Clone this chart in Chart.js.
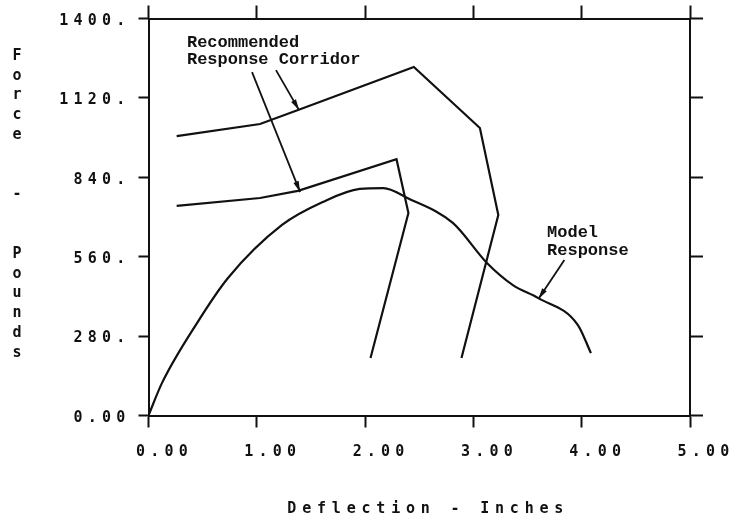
<!DOCTYPE html>
<html>
<head>
<meta charset="utf-8">
<script src="https://cdn.jsdelivr.net/npm/chart.js@4.4.1/dist/chart.umd.min.js"></script>
<style>
  html, body { margin: 0; padding: 0; background: #fff; }
  #wrap { width: 731px; height: 522px; }
</style>
</head>
<body>
<div id="wrap"><canvas id="chart"></canvas></div>
<script>
// axis ticks
const xTicks = [0, 1, 2, 3, 4, 5];
const xTickLabels = ["0.00", "1.00", "2.00", "3.00", "4.00", "5.00"];
const yTicks = [0, 280, 560, 840, 1120, 1400];
const yTickLabels = ["0.00", "280.", "560.", "840.", "1120.", "1400."];

// recommended response corridor (upper and lower bounds), inches / pounds
const upperX = [0.26, 1.03, 1.40, 2.45, 3.06, 3.23, 2.89];
const upperY = [985, 1028, 1080, 1229, 1014, 707, 203];
const lowerX = [0.26, 1.03, 1.38, 2.29, 2.40, 2.05];
const lowerY = [739, 767, 792, 904, 714, 203];

// model response
const modelX = [0, 0.125, 0.448, 0.734, 1.233, 1.61, 1.95, 2.17, 2.39, 2.81, 3.125, 3.365, 3.60, 3.965, 4.085];
const modelY = [0, 115, 326, 485, 672, 753, 799, 802, 767, 679, 538, 460, 414, 319, 220];

// callouts (text anchors and arrows, in data units)
const labels = [
    { text: "Recommended", x: 0.355, y: 1313 },
    { text: "Response Corridor", x: 0.355, y: 1253 },
    { text: "Model", x: 3.68, y: 643 },
    { text: "Response", x: 3.68, y: 580 },
];
const arrows = [
    { x0: 0.956, y0: 1211, x1: 1.40, y1: 788 },
    { x0: 1.177, y0: 1218, x1: 1.39, y1: 1077 },
    { x0: 3.84, y0: 548, x1: 3.60, y1: 411 },
];

const xTitle = "Deflection - Inches";
const yTitle = "Force  -  Pounds";

const ink = "#111";
const axisFont = { family: "'DejaVu Sans Mono'", size: 15, weight: "bold" };

function toPoints(xs, ys) {
    return xs.map((x, i) => ({ x: x, y: ys[i] }));
}

function setTicks(values) {
    return (scale) => { scale.ticks = values.map((v) => ({ value: v })); };
}

const frame = {
    drawOnChartArea: false,
    drawTicks: true,
    tickWidth: 2,
    tickColor: ink,
};

const textPlugin = {
    id: "textPlugin",
    beforeDraw(chart) {
        chart.ctx.letterSpacing = "5.2px";
    },
    afterDraw(chart) {
        const ctx = chart.ctx;
        const xs = chart.scales.x;
        const ys = chart.scales.y;
        const area = chart.chartArea;
        ctx.save();
        ctx.fillStyle = ink;
        ctx.strokeStyle = ink;

        // x axis title
        ctx.letterSpacing = "5.8px";
        ctx.font = "bold 15px 'DejaVu Sans Mono'";
        ctx.textAlign = "center";
        ctx.textBaseline = "middle";
        ctx.fillText(xTitle, (area.left + area.right) / 2 + 9, 509);

        // y axis title, one letter per line
        ctx.letterSpacing = "0px";
        yTitle.split("").forEach((ch, i) => {
            ctx.fillText(ch, 17, 56 + i * 19.8);
        });

        // callout text
        ctx.font = "bold 17px 'Liberation Mono'";
        ctx.textAlign = "left";
        labels.forEach((l) => {
            ctx.fillText(l.text, xs.getPixelForValue(l.x), ys.getPixelForValue(l.y));
        });

        // callout arrows
        ctx.lineWidth = 1.8;
        arrows.forEach((a) => {
            const px0 = xs.getPixelForValue(a.x0);
            const py0 = ys.getPixelForValue(a.y0);
            const px1 = xs.getPixelForValue(a.x1);
            const py1 = ys.getPixelForValue(a.y1);
            const ang = Math.atan2(py1 - py0, px1 - px0);
            ctx.beginPath();
            ctx.moveTo(px0, py0);
            ctx.lineTo(px1, py1);
            ctx.stroke();
            const len = 11, half = 2.8;
            ctx.beginPath();
            ctx.moveTo(px1, py1);
            ctx.lineTo(px1 - len * Math.cos(ang) + half * Math.sin(ang), py1 - len * Math.sin(ang) - half * Math.cos(ang));
            ctx.lineTo(px1 - len * Math.cos(ang) - half * Math.sin(ang), py1 - len * Math.sin(ang) + half * Math.cos(ang));
            ctx.closePath();
            ctx.fill();
        });
        ctx.restore();
    },
};

const ctx = document.getElementById("chart").getContext("2d");

const chart = new Chart(ctx, {
    type: "scatter",
    data: {
        datasets: [
            { label: "Upper corridor", data: toPoints(upperX, upperY), tension: 0 },
            { label: "Lower corridor", data: toPoints(lowerX, lowerY), tension: 0 },
            { label: "Model Response", data: toPoints(modelX, modelY), cubicInterpolationMode: "monotone" },
        ].map((d) => Object.assign(d, {
            showLine: true,
            borderColor: ink,
            borderWidth: 2.2,
            pointRadius: 0,
            fill: false,
        })),
    },
    options: {
        responsive: true,
        maintainAspectRatio: false,
        animation: false,
        layout: { padding: 0 },
        plugins: { legend: { display: false }, tooltip: { enabled: false } },
        scales: {
            x: {
                type: "linear",
                position: "bottom",
                min: 0,
                max: 5,
                afterBuildTicks: setTicks(xTicks),
                afterFit: (s) => { s.height = 106.5; },
                ticks: {
                    callback: (v) => xTickLabels[xTicks.indexOf(v)],
                    font: axisFont,
                    color: ink,
                    labelOffset: 16,
                    padding: 16,
                    maxRotation: 0,
                    autoSkip: false,
                },
                grid: Object.assign({ tickLength: 12 }, frame),
                border: { display: true, color: ink, width: 2 },
            },
            x2: {
                type: "linear",
                position: "top",
                min: 0,
                max: 5,
                afterBuildTicks: setTicks(xTicks),
                afterFit: (s) => { s.height = 18.5; },
                ticks: { display: false },
                grid: Object.assign({ tickLength: 13 }, frame),
                border: { display: true, color: ink, width: 2 },
            },
            y: {
                type: "linear",
                position: "left",
                min: 0,
                max: 1400,
                afterBuildTicks: setTicks(yTicks),
                afterFit: (s) => { s.width = 148.5; },
                ticks: {
                    callback: (v) => yTickLabels[yTicks.indexOf(v)],
                    font: axisFont,
                    color: ink,
                    labelOffset: 2.5,
                    padding: 8,
                    autoSkip: false,
                },
                grid: Object.assign({ tickLength: 10 }, frame),
                border: { display: true, color: ink, width: 2 },
            },
            y2: {
                type: "linear",
                position: "right",
                min: 0,
                max: 1400,
                afterBuildTicks: setTicks(yTicks),
                afterFit: (s) => { s.width = 41; },
                ticks: { display: false },
                grid: Object.assign({ tickLength: 13 }, frame),
                border: { display: true, color: ink, width: 2 },
            },
        },
    },
    plugins: [textPlugin],
});
</script>
</body>
</html>
